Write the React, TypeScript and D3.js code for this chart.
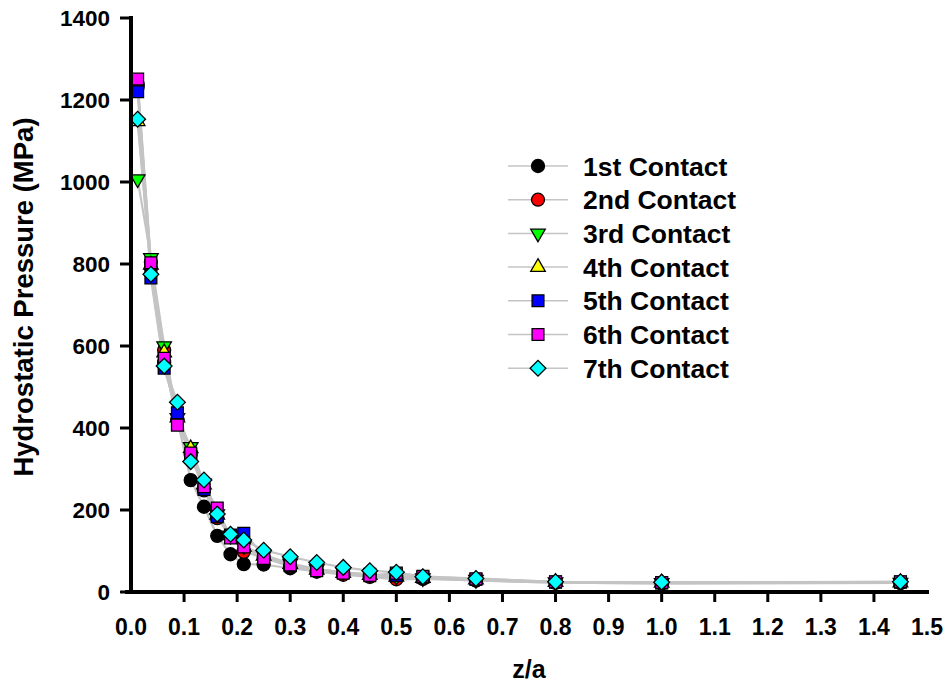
import React from 'react';
import * as d3 from 'd3';

// z/a positions shared by every contact
const zOverA = [0.0125, 0.0375, 0.0625, 0.0875, 0.1125, 0.1375, 0.1625, 0.1875, 0.2125, 0.25, 0.3, 0.35, 0.4, 0.45, 0.5, 0.55, 0.65, 0.8, 1.0, 1.45];

const contact1 = [1238, 790, 560, 420, 273, 208, 137, 92, 68, 67, 58, 50, 45, 40, 36, 33, 28, 23, 21, 22];
const contact2 = [1232, 805, 590, 420, 335, 248, 180, 136, 98, 84, 62, 50, 42, 37, 31, 32, 28, 23, 21, 22];
const contact3 = [1007, 815, 600, 425, 354, 265, 190, 138, 112, 90, 70, 56, 48, 42, 38, 34, 30, 24, 22, 23];
const contact4 = [1148, 798, 584, 425, 350, 262, 188, 138, 110, 88, 68, 54, 46, 41, 37, 34, 30, 24, 22, 23];
const contact5 = [1220, 766, 546, 437, 335, 250, 184, 139, 143, 90, 64, 56, 48, 43, 40, 36, 31, 24, 22, 24];
const contact6 = [1251, 803, 570, 407, 339, 257, 205, 132, 110, 82, 66, 52, 46, 40, 46, 38, 32, 25, 23, 25];
const contact7 = [1153, 775, 551, 463, 318, 273, 190, 141, 127, 102, 86, 72, 60, 52, 48, 37, 33, 25, 24, 25];

const labels = ['1st Contact', '2nd Contact', '3rd Contact', '4th Contact', '5th Contact', '6th Contact', '7th Contact'];
const fills = ['#000000', '#ff0000', '#00ff00', '#ffff00', '#0000ff', '#ff00ff', '#00ffff'];
const shapes = ['circle', 'circle', 'down', 'up', 'square', 'square', 'diamond'];
const allSeries = [contact1, contact2, contact3, contact4, contact5, contact6, contact7];

const xTicks = [0.0, 0.1, 0.2, 0.3, 0.4, 0.5, 0.6, 0.7, 0.8, 0.9, 1.0, 1.1, 1.2, 1.3, 1.4, 1.5];
const yTicks = [0, 200, 400, 600, 800, 1000, 1200, 1400];

const W = 946, H = 691;
const M = { l: 131, r: 19, t: 18, b: 99 };
const FONT = '"Liberation Sans", Arial, Helvetica, sans-serif';

/* marker path for each shape */
const markerPath = (shape: string) => {
  if (shape === 'circle') return d3.symbol().type(d3.symbolCircle).size(133)();
  if (shape === 'square') return d3.symbol().type(d3.symbolSquare).size(140)();
  if (shape === 'diamond') return d3.symbol().type(d3.symbolSquare).size(124)();
  return d3.symbol().type(d3.symbolTriangle).size(92)();
};
const markerRot = (shape: string) => (shape === 'diamond' ? 45 : shape === 'down' ? 180 : 0);

function Marker({ x, y, i }: { x: number; y: number; i: number }) {
  const s = shapes[i];
  return (
    <path
      d={markerPath(s) || ''}
      transform={`translate(${x},${y}) rotate(${markerRot(s)})`}
      fill={fills[i]}
      stroke="#000"
      strokeWidth={1.3}
    />
  );
}

export default function App() {
  const x = d3.scaleLinear().domain([0, 1.5]).range([M.l, W - M.r]);
  const y = d3.scaleLinear().domain([0, 1400]).range([H - M.b, M.t]);
  const line = d3.line<number>()
    .x((_, i) => x(zOverA[i]))
    .y(d => y(d));

  const legX = 538, legY0 = 166, legStep = 33.7;

  return (
    <svg width={W} height={H} style={{ position: 'absolute', left: 0, top: 0, background: '#fff' }}>
      {/* connecting lines */}
      {allSeries.map((s, i) => (
        <path key={'l' + i} d={line(s) || ''} fill="none" stroke="#c4c4c4" strokeWidth={2.2} />
      ))}

      {/* markers, first contact at the bottom */}
      {allSeries.map((s, i) => (
        <g key={'m' + i}>
          {s.map((v, j) => <Marker key={j} x={x(zOverA[j])} y={y(v)} i={i} />)}
        </g>
      ))}

      {/* axes */}
      <line x1={x(0)} x2={x(0)} y1={y(1400) - 2} y2={y(0) + 2} stroke="#000" strokeWidth={4} />
      <line x1={x(0) - 6} x2={x(1.5) + 2} y1={y(0)} y2={y(0)} stroke="#000" strokeWidth={4} />
      {yTicks.map(t => (
        <g key={'yt' + t}>
          <line x1={x(0) - 11} x2={x(0)} y1={y(t)} y2={y(t)} stroke="#000" strokeWidth={3} />
          <text x={x(0) - 21} y={y(t)} dy="0.36em" textAnchor="end"
            fontFamily={FONT} fontWeight="bold" fontSize={22.5} fill="#000">{t}</text>
        </g>
      ))}
      {xTicks.map(t => (
        <g key={'xt' + t}>
          {t > 0 && t < 1.5 && (
            <line x1={x(t)} x2={x(t)} y1={y(0)} y2={y(0) + 10} stroke="#000" strokeWidth={3} />
          )}
          <text x={x(t)} y={y(0) + 43} textAnchor="middle"
            fontFamily={FONT} fontWeight="bold" fontSize={23} fill="#000">{t.toFixed(1)}</text>
        </g>
      ))}

      {/* axis titles */}
      <text x={(x(0) + x(1.5)) / 2} y={678} textAnchor="middle"
        fontFamily={FONT} fontWeight="bold" fontSize={25} fill="#000">z/a</text>
      <text transform={`translate(33,${(y(0) + y(1400)) / 2 - 8}) rotate(-90)`} textAnchor="middle"
        fontFamily={FONT} fontWeight="bold" fontSize={27.5} fill="#000">Hydrostatic Pressure (MPa)</text>

      {/* legend */}
      {labels.map((lab, i) => {
        const ly = legY0 + i * legStep;
        return (
          <g key={'lg' + i}>
            <line x1={legX - 30} x2={legX + 30} y1={ly} y2={ly} stroke="#c4c4c4" strokeWidth={1.5} />
            <Marker x={legX} y={ly} i={i} />
            <text x={583} y={ly} dy="0.36em" fontFamily={FONT} fontWeight="bold" fontSize={26.5} fill="#000">{lab}</text>
          </g>
        );
      })}
    </svg>
  );
}
